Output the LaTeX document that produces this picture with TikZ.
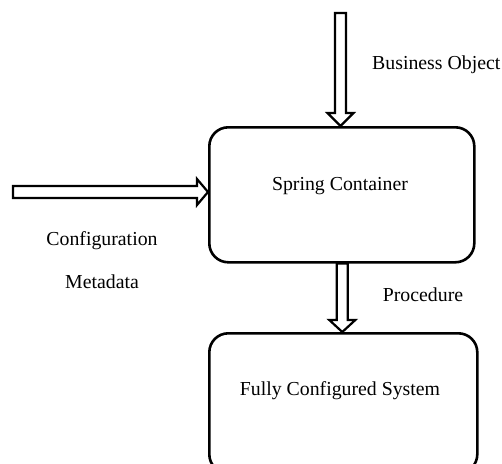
\documentclass[tikz,border=0pt]{standalone}
\usepackage{fontspec}
\setmainfont{Liberation Serif}
\usetikzlibrary{calc}
\begin{document}
\begin{tikzpicture}[x=1pt,y=-1pt,
  box/.style={draw,line width=2.6pt,rounded corners=19pt,fill=white},
  lbl/.style={font=\fontsize{19.8}{22}\selectfont,inner sep=0pt},
  hollow/.style={draw,line width=2.2pt,fill=white,line join=miter}]
\clip (0,0) rectangle (502,463);
\useasboundingbox (0,0) rectangle (502,463);
% boxes
\node[box,minimum width=265pt,minimum height=135pt,anchor=north west] (sc) at (208,126) {};
\node[box,minimum width=268pt,minimum height=140pt,anchor=north west] (fcs) at (208,332) {};
\node[lbl] (sct) at (340,186) {Spring Container};
\node[lbl] (fcst) at (340,391) {Fully Configured System};
% free ends
\coordinate (bo) at (340.5,13);
\coordinate (cm) at (13,192);
% top arrow
\draw[hollow] let \p1=(bo), \p2=(sc.north) in
  (\x1-5.5,\y1) -- (\x1-5.5,\y2+13) -- (\x1-13,\y2+13) -- (\x1,\y2) -- (\x1+13,\y2+13) -- (\x1+5.5,\y2+13) -- (\x1+5.5,\y1) -- cycle;
% left arrow
\draw[hollow] let \p1=(cm), \p2=(sc.west) in
  (\x1,\y1-6) -- (\x2-11,\y1-6) -- (\x2-11,\y1-13) -- (\x2,\y1) -- (\x2-11,\y1+13) -- (\x2-11,\y1+6) -- (\x1,\y1+6) -- cycle;
% down arrow
\draw[hollow] let \p1=($(sc.south)+(0.5,0)$), \p2=(fcs.north) in
  (\x1-5.5,\y1) -- (\x1-5.5,\y2+12) -- (\x1-13,\y2+12) -- (\x1,\y2) -- (\x1+13,\y2+12) -- (\x1+5.5,\y2+12) -- (\x1+5.5,\y1) -- cycle;
% labels
\node[lbl,anchor=west] (bot) at (372,65) {Business Object};
\node[lbl] (cft) at (102,241) {Configuration};
\node[lbl] (mdt) at (102,282) {Metadata};
\node[lbl] (prt) at (423,295) {Procedure};
\end{tikzpicture}
\end{document}
